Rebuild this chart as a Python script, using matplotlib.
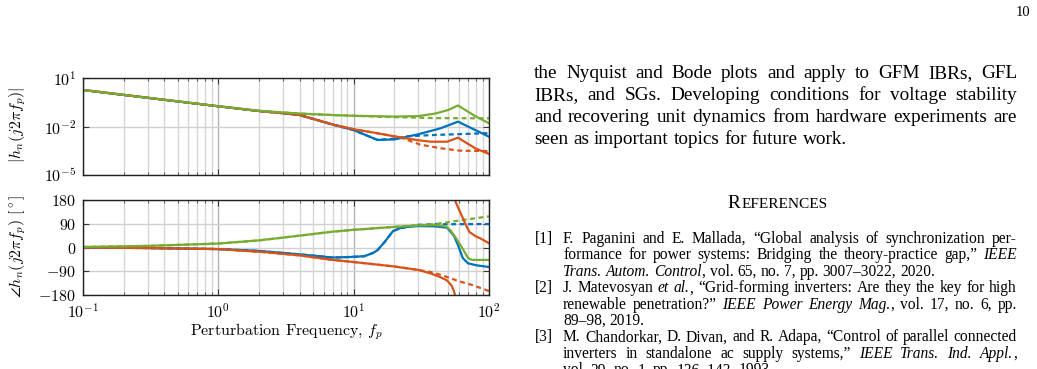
import matplotlib
matplotlib.use('Agg')
import matplotlib.pyplot as plt
from matplotlib.ticker import NullLocator, NullFormatter, FixedLocator
import numpy as np

W, H, DPI = 1037, 369, 100
plt.rcParams['mathtext.fontset'] = 'cm'
plt.rcParams['font.family'] = ['cmr10', 'DejaVu Serif']
plt.rcParams['axes.formatter.use_mathtext'] = True

# ---------------- data ----------------
# magnitude |h_n(j2*pi*f_p)|
green_mag_f = [0.1, 0.3, 1, 2, 4, 7, 10, 20, 30, 40, 50, 59, 78, 100]
green_mag = [1.82, 0.60, 0.18, 0.093, 0.063, 0.051, 0.046, 0.041, 0.044, 0.063, 0.105, 0.20, 0.047, 0.0158]
green_mag_model_f = [0.1, 0.3, 1, 2, 4, 7, 10, 20, 40, 100]
green_mag_model = [1.82, 0.60, 0.18, 0.093, 0.063, 0.051, 0.046, 0.038, 0.033, 0.032]

blue_mag_f = [0.1, 0.3, 1, 2, 3, 4, 7, 10, 15, 20, 30, 44, 59, 100]
blue_mag = [1.82, 0.60, 0.178, 0.091, 0.066, 0.051, 0.0132, 0.0060, 0.00148, 0.00158, 0.0033, 0.0078, 0.020, 0.00234]
blue_mag_model_f = [0.1, 0.3, 1, 2, 3, 4, 7, 10, 15, 20, 25, 40, 100]
blue_mag_model = [1.82, 0.60, 0.178, 0.091, 0.066, 0.051, 0.0132, 0.0060, 0.00148, 0.00178, 0.0025, 0.0030, 0.0039]

red_mag_f = [0.1, 0.3, 1, 2, 3, 4, 7, 10, 15, 22, 30, 37, 49, 59, 79, 100]
red_mag = [1.82, 0.60, 0.178, 0.091, 0.066, 0.051, 0.0132, 0.0068, 0.0038, 0.00214, 0.00141, 0.00115, 0.00115, 0.00204, 0.00045, 0.0002]
red_mag_model_f = [0.1, 0.3, 1, 2, 3, 4, 7, 10, 15, 22, 31, 44, 61, 100]
red_mag_model = [1.82, 0.60, 0.178, 0.091, 0.066, 0.051, 0.0132, 0.0068, 0.0038, 0.00214, 0.00076, 0.00045, 0.00032, 0.0003]

# phase angle (degrees)
green_ph_f = [0.1, 0.3, 1, 2, 4, 7, 10, 20, 30, 40, 48, 52, 58, 64, 70, 75, 100]
green_ph = [2, 6, 15, 27, 45, 60, 67, 78, 83, 85, 80, 65, 30, -5, -40, -47, -47]
green_ph_model_f = [0.1, 0.3, 1, 2, 4, 7, 10, 20, 30, 40, 50, 70, 100]
green_ph_model = [2, 6, 15, 27, 45, 60, 67, 78, 84, 89, 96, 107, 118]

blue_ph_f = [0.1, 0.3, 1, 2, 4, 7, 9.4, 12, 14, 15, 17, 19.5, 22, 25, 30, 40, 49, 55, 59, 64, 70, 80, 100]
blue_ph = [0, -2, -6, -13, -26, -38, -36, -33, -20, -10, 22, 62, 73, 78, 81, 80, 75, 45, 9, -40, -60, -67, -74]
blue_ph_model_f = [0.1, 0.3, 1, 2, 4, 7, 9.4, 12, 14, 15, 17, 19.5, 22, 25, 30, 40, 100]
blue_ph_model = [0, -2, -6, -13, -26, -38, -36, -33, -20, -10, 22, 62, 73, 79, 86, 88, 89]

red_ph_f = [0.1, 0.3, 1, 2.25, 4, 7, 10, 20, 30, 37, 44, 49, 53, 55, 56.5, 63, 69, 72, 80, 86, 100]
red_ph = [0, -2, -6, -18, -30, -47, -55, -72, -85, -98, -113, -125, -145, -165, -186, -240, -285, -302, -318, -325, -344]
red_ph_model_f = [0.1, 0.3, 1, 2.25, 4, 7, 10, 20, 30, 37, 45, 60, 75, 100]
red_ph_model = [0, -2, -6, -18, -30, -47, -55, -72, -85, -93, -105, -128, -142, -165]

x_ticks = [0.1, 1, 10, 100]
x_ticklabels = [r'$10^{-1}$', r'$10^{0}$', r'$10^{1}$', r'$10^{2}$']
mag_ticks = [1e-5, 1e-2, 1e1]
mag_ticklabels = [r'$10^{-5}$', r'$10^{-2}$', r'$10^{1}$']
ph_ticks = [-180, -90, 0, 90, 180]
ph_ticklabels = [r'$-180$', r'$-90$', r'$0$', r'$90$', r'$180$']

BLUE, RED, GREEN = '#0072BD', '#D95319', '#77AC30'
LW = 1.6
DASH = (0, (2.2, 1.6))

fig = plt.figure(figsize=(W / DPI, H / DPI), dpi=DPI)
ax1 = fig.add_axes([83 / W, 1 - 175 / H, 406 / W, 97 / H])
ax2 = fig.add_axes([83 / W, 1 - 295 / H, 406 / W, 95 / H])


def style(ax):
    ax.set_xscale('log')
    ax.set_xlim(0.1, 100)
    ax.xaxis.set_minor_formatter(NullFormatter())
    ax.set_axisbelow(True)
    ax.grid(True, which='major', axis='x', color='#b4b4b4', lw=1.0)
    ax.grid(True, which='minor', axis='x', color='#d6d6d6', lw=1.0)
    ax.grid(True, which='major', axis='y', color='#cfcfcf', lw=1.0)
    ax.tick_params(which='both', direction='in', top=True, right=True, color='#3a3a3a')
    ax.tick_params(which='major', length=4, width=0.8, labelsize=11.5, pad=5)
    ax.tick_params(which='minor', length=2.2, width=0.6)
    for s in ax.spines.values():
        s.set_color('#222222')
        s.set_linewidth(1.0)


style(ax1)
style(ax2)

# magnitude
ax1.plot(blue_mag_model_f, blue_mag_model, color=BLUE, lw=LW, ls=DASH)
ax1.plot(red_mag_model_f, red_mag_model, color=RED, lw=LW, ls=DASH)
ax1.plot(green_mag_model_f, green_mag_model, color=GREEN, lw=LW, ls=DASH)
ax1.plot(blue_mag_f, blue_mag, color=BLUE, lw=LW)
ax1.plot(red_mag_f, red_mag, color=RED, lw=LW)
ax1.plot(green_mag_f, green_mag, color=GREEN, lw=LW)
ax1.set_yscale('log')
ax1.set_ylim(1e-5, 1e1)
ax1.yaxis.set_major_locator(FixedLocator(mag_ticks))
ax1.set_yticklabels(mag_ticklabels)
ax1.yaxis.set_minor_locator(NullLocator())
ax1.set_xticks(x_ticks)
ax1.set_xticklabels([])

# phase (angles drawn modulo 360, clipped to the axis)
ax2.plot(blue_ph_model_f, blue_ph_model, color=BLUE, lw=LW, ls=DASH)
ax2.plot(red_ph_model_f, red_ph_model, color=RED, lw=LW, ls=DASH)
ax2.plot(green_ph_model_f, green_ph_model, color=GREEN, lw=LW, ls=DASH)
ax2.plot(blue_ph_f, blue_ph, color=BLUE, lw=LW)
ax2.plot(red_ph_f, red_ph, color=RED, lw=LW)
ax2.plot(red_ph_f, np.array(red_ph) + 360, color=RED, lw=LW)
ax2.plot(green_ph_f, green_ph, color=GREEN, lw=LW)
ax2.set_ylim(-180, 180)
ax2.set_yticks(ph_ticks)
ax2.set_yticklabels(ph_ticklabels)
ax2.set_xticks(x_ticks)
ax2.set_xticklabels(x_ticklabels)

fig.text(18 / W, 1 - 125 / H, r'$|h_n(j2\pi f_p)|$', rotation=90, ha='center', va='center', fontsize=11.5)
fig.text(18 / W, 1 - 246 / H, r'$\angle h_n(j2\pi f_p)\ [^\circ]$', rotation=90, ha='center', va='center', fontsize=11.5)
fig.text(286 / W, 1 - 332 / H, r'Perturbation Frequency, $f_p$', ha='center', va='center', fontsize=11.5)

# ---------------- page text on the right ----------------
renderer = fig.canvas.get_renderer()
SERIF = 'Liberation Serif'


def tw(s, size, italic=False):
    t = fig.text(0, 0, s, fontsize=size, family=SERIF, fontstyle='italic' if italic else 'normal')
    w = t.get_window_extent(renderer).width
    t.remove()
    return w


def parse(line):
    words, cur, buf, it = [], [], '', False
    for ch in line:
        if ch == '*':
            if buf:
                cur.append((buf, it))
                buf = ''
            it = not it
        elif ch == ' ':
            if buf:
                cur.append((buf, it))
                buf = ''
            if cur:
                words.append(cur)
                cur = []
        else:
            buf += ch
    if buf:
        cur.append((buf, it))
    if cur:
        words.append(cur)
    return words


def natural(line, size):
    words = parse(line)
    tot = sum(tw(s, size, it) for w in words for s, it in w)
    sp = tw('x x', size) - tw('xx', size)
    return tot + sp * (len(words) - 1)


def draw_line(line, x0, x1, y, size, justify):
    words = parse(line)
    widths = [[tw(s, size, it) for s, it in w] for w in words]
    tot = [sum(ws) for ws in widths]
    sp = tw('x x', size) - tw('xx', size)
    if justify and len(words) > 1:
        sp = (x1 - x0 - sum(tot)) / (len(words) - 1)
    x = x0
    for w, ws, t in zip(words, widths, tot):
        xx = x
        for (s, it), wd in zip(w, ws):
            fig.text(xx / W, 1 - y / H, s, fontsize=size, family=SERIF,
                     fontstyle='italic' if it else 'normal', ha='left', va='baseline')
            xx += wd
        x += t + sp


RIGHT = 1017

body_lines = [
    ("the Nyquist and Bode plots and apply to GFM IBRs, GFL", True),
    ("IBRs, and SGs. Developing conditions for voltage stability", True),
    ("and recovering unit dynamics from hardware experiments are", True),
    ("seen as important topics for future work.", False),
]

refs = [
    ("[1]", [("F. Paganini and E. Mallada, “Global analysis of synchronization per-", True),
             ("formance for power systems: Bridging the theory-practice gap,” *IEEE*", True),
             ("*Trans. Autom. Control*, vol. 65, no. 7, pp. 3007–3022, 2020.", False)]),
    ("[2]", [("J. Matevosyan *et al.*, “Grid-forming inverters: Are they the key for high", True),
             ("renewable penetration?” *IEEE Power Energy Mag.*, vol. 17, no. 6, pp.", True),
             ("89–98, 2019.", False)]),
    ("[3]", [("M. Chandorkar, D. Divan, and R. Adapa, “Control of parallel connected", True),
             ("inverters in standalone ac supply systems,” *IEEE Trans. Ind. Appl.*,", True),
             ("vol. 29, no. 1, pp. 136–143, 1993.", False)]),
]

# font sizes chosen so that justified lines need a moderate stretch
bj = [ln for ln, j in body_lines if j]
BODY = 10 * np.mean([(RIGHT - 534 - 24) / natural(ln, 10) for ln in bj])
rj = [ln for _, ls in refs for ln, j in ls if j]
REF = 10 * np.mean([(RIGHT - 563 - 18) / natural(ln, 10) for ln in rj])

for i, (ln, j) in enumerate(body_lines):
    draw_line(ln, 534, RIGHT, 78 + 22 * i, BODY, j)

# heading in small caps
wR = tw('R', BODY)
wE = tw('EFERENCES', BODY * 0.8)
hx = 777.5 - (wR + wE + 1) / 2
fig.text(hx / W, 1 - 208 / H, 'R', fontsize=BODY, family=SERIF, va='baseline', ha='left')
fig.text((hx + wR + 1) / W, 1 - 208 / H, 'EFERENCES', fontsize=BODY * 0.8, family=SERIF, va='baseline', ha='left')

y = 243
for lab, lines in refs:
    fig.text(535 / W, 1 - y / H, lab, fontsize=REF, family=SERIF, va='baseline', ha='left')
    for ln, j in lines:
        draw_line(ln, 563, RIGHT, y, REF, j)
        y += 16.4

fig.text(1030 / W, 1 - 16 / H, '10', fontsize=10.5, family=SERIF, va='baseline', ha='right')

fig.savefig('out.png', dpi=DPI)
